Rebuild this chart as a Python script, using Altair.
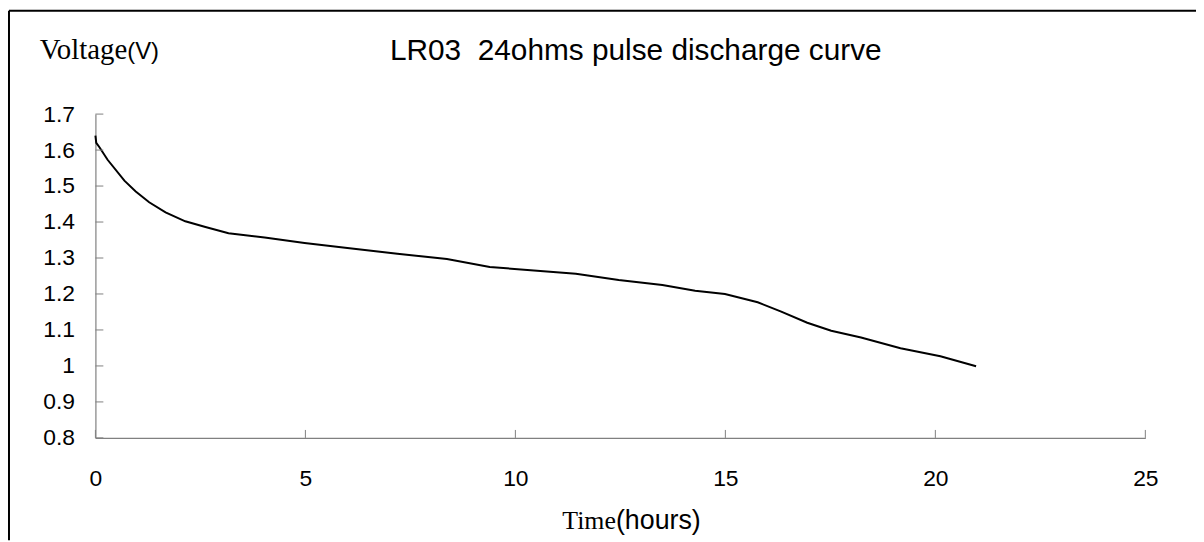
import altair as alt
import pandas as pd

# Discharge curve
hours = [0, 0.02, 0.1, 0.29, 0.69, 0.96, 1.28, 1.67, 2.14, 2.62, 3.17, 4.03, 4.98,
         6.0, 7.19, 8.37, 9.39, 11.44, 12.46, 13.5, 14.28, 14.99, 15.77, 16.33,
         16.95, 17.52, 18.23, 19.17, 20.12, 20.97]
volts = [1.64, 1.62, 1.607, 1.573, 1.515, 1.485, 1.455, 1.427, 1.402, 1.386, 1.369,
         1.357, 1.342, 1.328, 1.312, 1.297, 1.275, 1.256, 1.239, 1.225, 1.209, 1.200,
         1.177, 1.151, 1.120, 1.098, 1.079, 1.049, 1.027, 0.999]

x_ticks = [0, 5, 10, 15, 20, 25]
y_ticks = [0.8, 0.9, 1.0, 1.1, 1.2, 1.3, 1.4, 1.5, 1.6, 1.7]

title_text = "LR03 \u00a024ohms pulse discharge curve"
y_title_serif = "Voltage"
y_title_sans = "(V)"
x_title_serif = "Time"
x_title_sans = "(hours)"

W, H = 1057, 326
PAD = {"left": 88, "top": 105, "right": 51, "bottom": 103}

df = pd.DataFrame({"h": hours, "v": volts})
xt = pd.DataFrame({"h": x_ticks})
yt = pd.DataFrame({"v": y_ticks})
one = alt.Data(values=[{}])

xscale = alt.Scale(domain=[0, 25], nice=False, zero=False)
yscale = alt.Scale(domain=[0.8, 1.7], nice=False, zero=False)

AX = "#808080"

xaxis = alt.Axis(values=x_ticks, title=None, grid=False, ticks=False,
                 domainColor=AX, domainWidth=1.2, labelPadding=30,
                 labelFont="Liberation Sans", labelFontSize=23,
                 labelColor="black", labelOverlap=False,
                 labelFlush=False, labelBound=False)
yaxis = alt.Axis(values=y_ticks, format=".1~f", title=None, grid=False,
                 ticks=False, domainColor=AX, domainWidth=1.2,
                 labelPadding=21, labelFont="Liberation Sans",
                 labelFontSize=23, labelColor="black",
                 labelOverlap=False, labelFlush=False, labelBound=False)

line = alt.Chart(df).mark_line(color="black", strokeWidth=2).encode(
    x=alt.X("h:Q", scale=xscale, axis=xaxis),
    y=alt.Y("v:Q", scale=yscale, axis=yaxis),
)

xtick_layer = alt.Chart(xt).mark_rule(color=AX, strokeWidth=1).encode(
    x=alt.X("h:Q", scale=xscale, axis=xaxis),
    y=alt.value(H - 8), y2=alt.value(H),
)
ytick_layer = alt.Chart(yt).mark_rule(color=AX, strokeWidth=1).encode(
    y=alt.Y("v:Q", scale=yscale, axis=yaxis),
    x=alt.value(0), x2=alt.value(8),
)

title_layer = alt.Chart(one).mark_text(
    font="Liberation Sans", fontSize=30, color="black", align="center",
    baseline="alphabetic").encode(
    x=alt.value(544), y=alt.value(-54), text=alt.value(title_text))

yt1 = alt.Chart(one).mark_text(
    font="Liberation Serif", fontSize=29, color="black", align="right",
    baseline="alphabetic").encode(
    x=alt.value(32), y=alt.value(-55), text=alt.value(y_title_serif))
yt2 = alt.Chart(one).mark_text(
    font="Liberation Sans", fontSize=24, color="black", align="left",
    baseline="alphabetic").encode(
    x=alt.value(32), y=alt.value(-55), text=alt.value(y_title_sans))

xt1 = alt.Chart(one).mark_text(
    font="Liberation Serif", fontSize=26, color="black", align="right",
    baseline="alphabetic").encode(
    x=alt.value(524), y=alt.value(418), text=alt.value(x_title_serif))
xt2 = alt.Chart(one).mark_text(
    font="Liberation Sans", fontSize=27, color="black", align="left",
    baseline="alphabetic").encode(
    x=alt.value(524), y=alt.value(418), text=alt.value(x_title_sans))

border_top = alt.Chart(one).mark_rule(color="black", strokeWidth=2).encode(
    x=alt.value(-87), x2=alt.value(W + PAD["right"]), y=alt.value(-104))
border_left = alt.Chart(one).mark_rule(color="black", strokeWidth=2).encode(
    x=alt.value(-87), y=alt.value(-104), y2=alt.value(H + PAD["bottom"]))

chart = alt.layer(
    line, border_top, border_left, xtick_layer, ytick_layer,
    title_layer, yt1, yt2, xt1, xt2
).properties(
    width=W, height=H, autosize="none", padding=PAD, background="white"
).configure_view(stroke=None)

chart.save("out.html", embed_options={"renderer": "svg", "actions": False})
